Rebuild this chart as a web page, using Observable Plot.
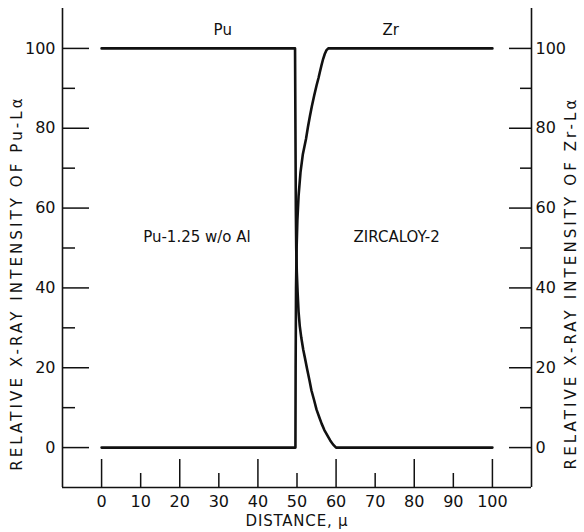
<!DOCTYPE html>
<html><head><meta charset="utf-8">
<script src="https://cdn.jsdelivr.net/npm/d3@7"></script>
<script src="https://cdn.jsdelivr.net/npm/@observablehq/plot@0.6"></script>
<style>body{margin:0;background:#fff} svg{display:block}</style>
</head><body><div id="chart"></div>
<script>
// Pu-Lα intensity profile
const puDistance  = [0, 49.5, 49.6, 49.7, 49.8, 49.95, 50.15, 50.4, 50.7, 51.1, 51.6, 52.0, 52.6, 53.2, 53.7, 54.4, 55.0, 55.7, 56.3, 57.0, 57.8, 58.5, 59.2, 60, 100];
const puIntensity = [100, 100, 80, 60, 50, 44, 39, 34, 30.5, 27.5, 24.5, 22.6, 19.6, 16.8, 14.3, 11.8, 9.5, 7.6, 6.0, 4.4, 3.0, 1.8, 0.8, 0, 0];
// Zr-Lα intensity profile
const zrDistance  = [0, 49.6, 49.65, 49.75, 49.9, 50.1, 50.4, 50.9, 51.5, 52.3, 52.8, 53.3, 53.8, 54.4, 55.0, 55.5, 55.9, 56.3, 56.7, 57.1, 57.5, 58.0, 100];
const zrIntensity = [0, 0, 20, 40, 50, 57, 63, 69, 73.5, 77.3, 80.3, 83, 85.5, 88.2, 90.7, 92.6, 94.3, 95.9, 97.4, 98.6, 99.5, 100, 100];

const xDomain = [-10, 110];
const yDomain = [-10, 110];
const xMajor = [0, 20, 40, 60, 80, 100];
const xMinor = [10, 30, 50, 70, 90];
const yMajor = [0, 20, 40, 60, 80, 100];
const yMinor = [10, 30, 50, 70, 90];

const noteText = ["Pu", "Zr", "Pu-1.25 w/o Al", "ZIRCALOY-2"];
const noteX = [31, 74, 24.4, 75.5];
const noteY = [104.5, 104.5, 52.8, 52.8];

const leftTitle = "RELATIVE X-RAY INTENSITY OF Pu-Lα";
const rightTitle = "RELATIVE X-RAY INTENSITY OF Zr-Lα";
const bottomTitle = "DISTANCE, μ";

const pu = puDistance.map((d, i) => ({x: d, y: puIntensity[i]}));
const zr = zrDistance.map((d, i) => ({x: d, y: zrIntensity[i]}));
const notes = noteText.map((t, i) => ({t, x: noteX[i], y: noteY[i]}));

const ink = "#111";
const plot = Plot.plot({
  width: 584, height: 532,
  marginLeft: 62, marginRight: 53, marginTop: 8, marginBottom: 45,
  x: {domain: xDomain},
  y: {domain: yDomain},
  style: {fontFamily: "DejaVu Sans", fontSize: "16px", color: ink, background: "#fff"},
  marks: [
    Plot.ruleX(xDomain, {stroke: ink, strokeWidth: 1.6}),
    Plot.ruleY([yDomain[0]], {stroke: ink, strokeWidth: 1.6}),
    Plot.axisX(xMajor, {tickSize: -28, tickPadding: 36, strokeWidth: 1.5, label: null, fontSize: 16, tickFormat: d => String(d)}),
    Plot.axisX(xMinor, {tickSize: -14, tickPadding: 22, strokeWidth: 1.5, label: null, fontSize: 16, tickFormat: d => String(d)}),
    Plot.axisY(yMajor, {anchor: "left", tickSize: -27, tickPadding: 34, strokeWidth: 1.5, label: null, fontSize: 16, tickFormat: d => String(d)}),
    Plot.axisY(yMinor, {anchor: "left", tickSize: -13, strokeWidth: 1.5, fill: "none", label: null}),
    Plot.axisY(yMajor, {anchor: "right", tickSize: -23, tickPadding: 27, strokeWidth: 1.5, label: null, fontSize: 16, tickFormat: d => String(d)}),
    Plot.axisY(yMinor, {anchor: "right", tickSize: -12, strokeWidth: 1.5, fill: "none", label: null}),
    Plot.line(pu, {x: "x", y: "y", stroke: ink, strokeWidth: 2.6, strokeLinejoin: "round"}),
    Plot.line(zr, {x: "x", y: "y", stroke: ink, strokeWidth: 2.6, strokeLinejoin: "round"}),
    Plot.text(notes, {x: "x", y: "y", text: "t", fill: ink, fontSize: 15}),
    Plot.text([leftTitle], {frameAnchor: "left", textAnchor: "middle", rotate: -90, dx: -45, dy: 35, fill: ink, fontSize: 15}),
    Plot.text([rightTitle], {frameAnchor: "right", textAnchor: "middle", rotate: -90, dx: 40, dy: 35, fill: ink, fontSize: 15}),
    Plot.text([bottomTitle], {frameAnchor: "bottom", dy: 38, fill: ink, fontSize: 15})
  ]
});
// widen letter spacing of the vertical axis titles
plot.querySelectorAll("text").forEach(t => {
  if ([leftTitle, rightTitle].includes(t.textContent)) t.setAttribute("letter-spacing", "3.1");
  if (t.textContent === bottomTitle) t.setAttribute("letter-spacing", "0.8");
});
document.getElementById("chart").append(plot);
</script>
</body></html>
